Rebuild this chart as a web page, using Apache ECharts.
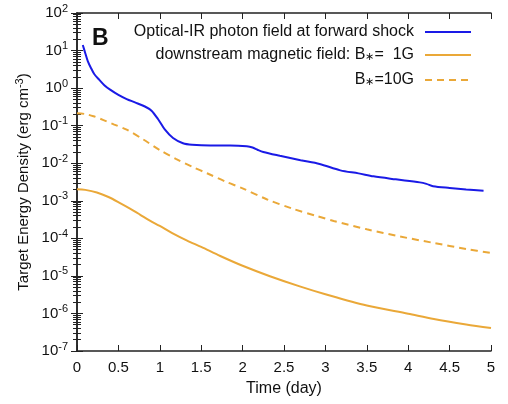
<!DOCTYPE html>
<html><head><meta charset="utf-8">
<script src="https://cdn.jsdelivr.net/npm/echarts@6/dist/echarts.min.js"></script>
<style>html,body{margin:0;padding:0;background:#fff}#c{width:508px;height:404px}</style>
</head><body><div id="c"></div>
<script>
var xTicks = [0, 0.5, 1, 1.5, 2, 2.5, 3, 3.5, 4, 4.5, 5];
var yExponents = [-7, -6, -5, -4, -3, -2, -1, 0, 1, 2];

var photonName = 'Optical-IR photon field at forward shock';
var b1Name = 'downstream magnetic field: B*=  1G';
var b10Name = 'B*=10G';

var photonTime = [0.07, 0.10, 0.13, 0.17, 0.21, 0.27, 0.33, 0.40, 0.50, 0.60, 0.70, 0.82, 0.90, 0.98, 1.06, 1.16, 1.28, 1.39, 1.61, 1.85, 2.05, 2.12, 2.18, 2.25, 2.45, 2.70, 2.93, 3.18, 3.40, 3.58, 3.85, 4.14, 4.22, 4.30, 4.50, 4.70, 4.91];
var photonDensity = [14.1, 8.5, 5.25, 3.39, 2.34, 1.66, 1.20, 0.91, 0.66, 0.51, 0.417, 0.324, 0.251, 0.148, 0.0794, 0.0468, 0.0339, 0.0309, 0.0295, 0.0295, 0.0282, 0.0263, 0.0229, 0.0200, 0.0158, 0.0120, 0.00955, 0.00646, 0.00537, 0.00447, 0.00372, 0.00309, 0.00282, 0.00245, 0.00219, 0.00200, 0.00186];

var b10Time = [0, 0.1, 0.2, 0.32, 0.45, 0.6, 0.8, 1.0, 1.2, 1.4, 1.57, 1.8, 2.0, 2.29, 2.6, 2.9, 3.1, 3.5, 3.9, 4.3, 4.7, 5.0];
var b10Density = [0.214, 0.204, 0.178, 0.141, 0.107, 0.078, 0.043, 0.0224, 0.0129, 0.0079, 0.0054, 0.0032, 0.00214, 0.0011, 0.00062, 0.00039, 0.00029, 0.000174, 0.000112, 0.000076, 0.000052, 0.000041];

var b1Time = [0, 0.1, 0.24, 0.38, 0.52, 0.64, 0.76, 0.88, 1.0, 1.15, 1.33, 1.5, 1.73, 2.0, 2.33, 2.69, 3.0, 3.5, 4.0, 4.31, 4.7, 5.0];
var b1Density = [0.00204, 0.00195, 0.00166, 0.00126, 0.00087, 0.00062, 0.00043, 0.000295, 0.000214, 0.000138, 0.000087, 0.000059, 0.0000339, 0.0000186, 9.8e-6, 5.25e-6, 3.24e-6, 1.62e-6, 9.8e-7, 7.1e-7, 5.1e-7, 4.1e-7];

function pairs(xs, ys) { return xs.map(function (x, i) { return [x, ys[i]]; }); }

var FONT = '"Liberation Sans", Arial, Helvetica, sans-serif';
var AX = '#222';
var TXT = '#111';
var BLUE = '#1a1ae6';
var ORANGE = '#eaa838';

var chart = echarts.init(document.getElementById('c'), null, {renderer: 'canvas'});

function legendText(name) {
  if (name === b1Name) return 'downstream magnetic field: B{s|∗}=  1G';
  if (name === b10Name) return 'B{s|∗}=10G';
  return name;
}
var legRich = {s: {fontSize: 11, fontFamily: FONT, color: TXT, padding: [4, 0, 0, 0]}};
function mkLegend(name, top) {
  return {
    data: [name], right: 36, top: top, align: 'right', itemWidth: 46, itemHeight: 10,
    itemGap: 0, padding: 0, selectedMode: false,
    itemStyle: {opacity: 0},
    formatter: legendText,
    textStyle: {fontSize: 16, fontFamily: FONT, color: TXT, rich: legRich, padding: [0, 6, 0, 0]}
  };
}

var yMin = Math.pow(10, yExponents[0]);
var yMax = Math.pow(10, yExponents[yExponents.length - 1]);

var option = {
  animation: false,
  backgroundColor: '#fff',
  grid: {left: 77, right: 17, top: 13, bottom: 53},
  legend: [mkLegend(photonName, 24), mkLegend(b1Name, 47), mkLegend(b10Name, 72)],
  graphic: [
    {type: 'text', left: 92, top: 27, style: {text: 'B', font: 'bold 23px ' + FONT, fill: TXT}},
    {type: 'text', x: 24, y: 182, rotation: Math.PI / 2,
      style: {text: 'Target Energy Density (erg cm{sup|-3})', align: 'center', verticalAlign: 'middle',
        fontSize: 15, fontFamily: FONT, fill: TXT,
        rich: {sup: {fontSize: 11, fontFamily: FONT, fill: TXT, padding: [0, 0, 9, 0]}}}}
  ],
  xAxis: [{
    type: 'value', min: xTicks[0], max: xTicks[xTicks.length - 1], interval: 0.5,
    name: 'Time (day)', nameLocation: 'middle', nameGap: 30,
    nameTextStyle: {fontSize: 16, fontFamily: FONT, color: TXT},
    axisLine: {lineStyle: {color: AX, width: 1.5}},
    axisTick: {inside: true, length: 6, lineStyle: {color: AX}},
    axisLabel: {fontSize: 15, fontFamily: FONT, color: TXT, margin: 9,
      formatter: function (v) { return String(v); }},
    splitLine: {show: false}
  }, {
    type: 'value', position: 'top', min: xTicks[0], max: xTicks[xTicks.length - 1], interval: 0.5,
    axisLine: {lineStyle: {color: AX, width: 1.5}},
    axisTick: {inside: true, length: 6, lineStyle: {color: AX}},
    axisLabel: {show: false}, splitLine: {show: false}
  }],
  yAxis: [{
    type: 'log', logBase: 10, min: yMin, max: yMax,
    axisLine: {show: true, lineStyle: {color: AX, width: 1.5}},
    axisTick: {inside: true, length: 6, lineStyle: {color: AX}},
    minorTick: {show: true, splitNumber: 9, length: 4, lineStyle: {color: AX}},
    axisLabel: {fontSize: 15, fontFamily: FONT, color: TXT, margin: 9,
      formatter: function (v) { return '10{sup|' + Math.round(Math.log10(v)) + '}'; },
      rich: {sup: {fontSize: 11, fontFamily: FONT, color: TXT, padding: [0, 0, 9, 0]}}},
    splitLine: {show: false}, minorSplitLine: {show: false}
  }, {
    type: 'log', logBase: 10, min: yMin, max: yMax, position: 'right',
    axisLine: {show: true, lineStyle: {color: AX, width: 1.5}},
    axisTick: {inside: true, length: 6, lineStyle: {color: AX}},
    minorTick: {show: true, splitNumber: 9, length: 4, lineStyle: {color: AX}},
    axisLabel: {show: false}, splitLine: {show: false}, minorSplitLine: {show: false}
  }],
  series: [{
    name: photonName, type: 'line', symbol: 'none', smooth: 0.3,
    data: pairs(photonTime, photonDensity), color: BLUE,
    lineStyle: {color: BLUE, width: 2}
  }, {
    name: b1Name, type: 'line', symbol: 'none', smooth: 0.3,
    data: pairs(b1Time, b1Density), color: ORANGE,
    lineStyle: {color: ORANGE, width: 2}
  }, {
    name: b10Name, type: 'line', symbol: 'none', smooth: 0.3,
    data: pairs(b10Time, b10Density), color: ORANGE,
    lineStyle: {color: ORANGE, width: 2, type: [7, 5]}
  }]
};
chart.setOption(option);
</script></body></html>
